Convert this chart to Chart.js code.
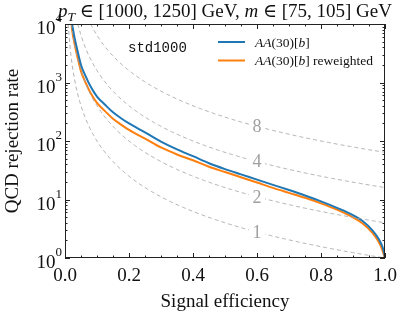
<!DOCTYPE html>
<html>
<head>
<meta charset="utf-8">
<script src="https://cdn.jsdelivr.net/npm/chart.js@4.4.0/dist/chart.umd.min.js"></script>
<style>
  html, body { margin: 0; padding: 0; background: #fff; }
</style>
</head>
<body>
<canvas id="roc" width="400" height="316"></canvas>
<script>
// ROC curves: signal efficiency -> QCD rejection
const blueEff = [0.022, 0.03, 0.04, 0.05, 0.065, 0.08, 0.1, 0.125, 0.15, 0.175, 0.2, 0.25, 0.3, 0.35, 0.4, 0.45, 0.5, 0.55, 0.6, 0.65, 0.7, 0.75, 0.8, 0.85, 0.9, 0.93, 0.96, 0.98, 0.99, 0.996, 1.0];
const blueRej = [10000, 5750, 3310, 1995, 1259, 851, 575, 417, 309, 245, 200, 141, 98, 72, 55, 41.7, 33.1, 26.9, 21.9, 17.8, 14.5, 11.7, 9.3, 7.2, 5.4, 4.3, 3.0, 2.14, 1.66, 1.32, 1.0];

const orangeEff = [0.0205, 0.022, 0.03, 0.04, 0.05, 0.065, 0.08, 0.1, 0.125, 0.15, 0.175, 0.2, 0.25, 0.3, 0.35, 0.4, 0.45, 0.5, 0.55, 0.6, 0.65, 0.7, 0.75, 0.8, 0.85, 0.9, 0.93, 0.96, 0.98, 0.99, 0.996, 1.0];
const orangeRej = [10000, 8130, 4570, 2570, 1550, 977, 661, 447, 324, 240, 191, 155, 110, 77.6, 58.9, 46.8, 36.3, 29.5, 24.0, 19.5, 15.8, 13.0, 10.7, 8.6, 6.7, 4.95, 3.9, 2.72, 1.9, 1.45, 1.15, 1.0];

// dashed guide lines of constant eff / sqrt(mistag)
const guideLevels = [1, 2, 4, 8];
const guideLabelEff = 0.6;

const xTicks = [0, 0.2, 0.4, 0.6, 0.8, 1.0];
const xTickLabels = ["0.0", "0.2", "0.4", "0.6", "0.8", "1.0"];
const yTicks = [1, 10, 100, 1000, 10000];
const yTickExp = ["0", "1", "2", "3", "4"];

const SERIF = '"Liberation Serif", "DejaVu Serif", serif';

function guidePoints(k) {
  const pts = [];
  for (let e = k / 100; e <= 1.0001; e += 0.004) {
    pts.push({ x: e, y: (k / e) * (k / e) });
  }
  return pts;
}

const guideSets = guideLevels.map(k => ({
  data: guidePoints(k),
  borderColor: "#a0a0a0",
  borderWidth: 0.8,
  borderDash: [4, 3],
  pointRadius: 0,
  tension: 0,
}));

const roc = {
  id: "roc",
  afterDatasetsDraw(chart) {
    const { ctx, chartArea: a, scales: { x, y } } = chart;
    ctx.save();

    // guide labels breaking the dashed lines
    ctx.font = "18px " + SERIF;
    ctx.textAlign = "center";
    ctx.textBaseline = "middle";
    guideLevels.forEach(k => {
      const px = x.getPixelForValue(guideLabelEff);
      const py = y.getPixelForValue((k / guideLabelEff) ** 2);
      ctx.fillStyle = "#fff";
      ctx.fillRect(px - 8, py - 7, 16, 14);
      ctx.fillStyle = "#a0a0a0";
      ctx.fillText(String(k), px, py + 1);
    });

    // frame
    ctx.strokeStyle = "#222";
    ctx.lineWidth = 1;
    ctx.strokeRect(a.left + 0.5, a.top + 0.5, a.width - 1, a.height - 1);

    // inward ticks on all four sides
    ctx.beginPath();
    for (let i = 0; i <= 20; i++) {
      const px = Math.round(x.getPixelForValue(i * 0.05)) + 0.5;
      const len = i % 4 === 0 ? 5 : 2.5;
      ctx.moveTo(px, a.bottom); ctx.lineTo(px, a.bottom - len);
      ctx.moveTo(px, a.top); ctx.lineTo(px, a.top + len);
    }
    for (let d = 1; d <= 10000; d *= 10) {
      for (let m = 1; m <= 9; m++) {
        const v = d * m;
        if (v > 10000) break;
        const py = Math.round(y.getPixelForValue(v)) + 0.5;
        const len = m === 1 ? 5 : 2.5;
        ctx.moveTo(a.left, py); ctx.lineTo(a.left + len, py);
        ctx.moveTo(a.right, py); ctx.lineTo(a.right - len, py);
      }
    }
    ctx.stroke();

    // tick labels
    ctx.fillStyle = "#111";
    ctx.textBaseline = "alphabetic";
    ctx.font = "19px " + SERIF;
    ctx.textAlign = "center";
    xTicks.forEach((v, i) => {
      ctx.fillText(xTickLabels[i], x.getPixelForValue(v), 281);
    });
    yTicks.forEach((v, i) => {
      const py = y.getPixelForValue(v);
      ctx.font = "13px " + SERIF;
      ctx.textAlign = "right";
      const ew = ctx.measureText(yTickExp[i]).width;
      ctx.fillText(yTickExp[i], a.left - 3, py - 2);
      ctx.font = "19px " + SERIF;
      ctx.fillText("10", a.left - 3 - ew, py + 10);
    });

    // axis titles
    ctx.textAlign = "center";
    ctx.font = "19px " + SERIF;
    ctx.fillText("Signal efficiency", (a.left + a.right) / 2, 307);
    ctx.save();
    ctx.translate(18, (a.top + a.bottom) / 2);
    ctx.rotate(-Math.PI / 2);
    ctx.fillText("QCD rejection rate", 0, 0);
    ctx.restore();

    // title with math italics
    const parts = [
      ["p", "italic 19px", 0],
      ["T", "italic 13.5px", 4],
      [" \u2208 [1000, 1250] GeV, ", "19px", 0],
      ["m", "italic 19px", 0],
      [" \u2208 [75, 105] GeV", "19px", 0],
    ];
    let total = 0;
    parts.forEach(p => { ctx.font = p[1] + " " + SERIF; total += ctx.measureText(p[0]).width; });
    let tx = (a.left + a.right) / 2 - total / 2;
    ctx.textAlign = "left";
    parts.forEach(p => {
      ctx.font = p[1] + " " + SERIF;
      ctx.fillText(p[0], tx, 17 + p[2]);
      tx += ctx.measureText(p[0]).width;
    });

    // annotation
    ctx.font = '14px "Liberation Mono", "DejaVu Sans Mono", monospace';
    ctx.fillText("std1000", 128, 52);

    // legend
    const legend = [
      ["#1f77b4", [["AA", "italic"], ["(30)[", ""], ["b", "italic"], ["]", ""]]],
      ["#ff7f0e", [["AA", "italic"], ["(30)[", ""], ["b", "italic"], ["] reweighted", ""]]],
    ];
    legend.forEach((item, i) => {
      const ly = 42 + i * 18.5;
      ctx.strokeStyle = item[0];
      ctx.lineWidth = 2;
      ctx.beginPath();
      ctx.moveTo(218, ly); ctx.lineTo(245, ly);
      ctx.stroke();
      let lx = 255;
      item[1].forEach(seg => {
        ctx.font = (seg[1] ? seg[1] + " " : "") + "13.5px " + SERIF;
        ctx.fillText(seg[0], lx, ly + 4.5);
        lx += ctx.measureText(seg[0]).width;
      });
    });

    ctx.restore();
  },
};

const toPoints = (xs, ys) => xs.map((v, i) => ({ x: v, y: ys[i] }));

new Chart(document.getElementById("roc"), {
  type: "line",
  data: {
    datasets: [
      ...guideSets,
      {
        label: "AA(30)[b]",
        data: toPoints(blueEff, blueRej),
        borderColor: "#1f77b4",
        borderWidth: 2,
        pointRadius: 0,
        cubicInterpolationMode: "monotone",
      },
      {
        label: "AA(30)[b] reweighted",
        data: toPoints(orangeEff, orangeRej),
        borderColor: "#ff7f0e",
        borderWidth: 2,
        pointRadius: 0,
        cubicInterpolationMode: "monotone",
      },
    ],
  },
  options: {
    responsive: false,
    animation: false,
    devicePixelRatio: 1,
    layout: { padding: { left: 65, right: 15, top: 24, bottom: 58 } },
    plugins: { legend: { display: false }, tooltip: { enabled: false } },
    scales: {
      x: { type: "linear", min: 0, max: 1, display: false },
      y: { type: "logarithmic", min: 1, max: 10000, display: false },
    },
  },
  plugins: [roc],
});
</script>
</body>
</html>
